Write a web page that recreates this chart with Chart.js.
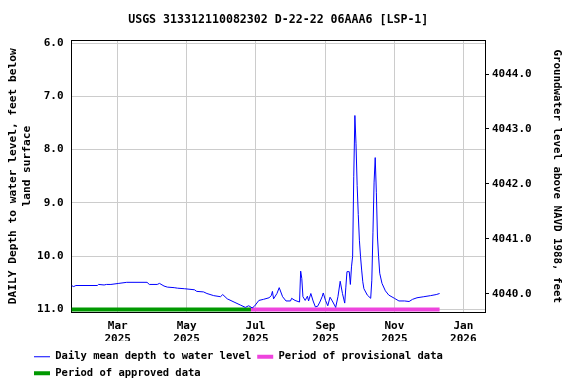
<!DOCTYPE html>
<html>
<head>
<meta charset="utf-8">
<title>USGS 313312110082302 D-22-22 06AAA6 [LSP-1]</title>
<script src="https://cdn.jsdelivr.net/npm/chart.js@4/dist/chart.umd.min.js"></script>
<style>
    body { margin: 0; background: #ffffff; }
</style>
</head>
<body>
<canvas id="myChart" width="576" height="384"></canvas>
<script>
// daily mean depth to water, feet below land surface
var dates = [
    '2025-01-19', '2025-01-21', '2025-01-23', '2025-02-11', '2025-02-12', '2025-02-17', '2025-02-19', '2025-02-23',
    '2025-03-02', '2025-03-09', '2025-03-27', '2025-03-29', '2025-04-05', '2025-04-07', '2025-04-11', '2025-04-14',
    '2025-04-20', '2025-04-23', '2025-04-29', '2025-05-08', '2025-05-10', '2025-05-16', '2025-05-19', '2025-05-25',
    '2025-05-31', '2025-06-02', '2025-06-06', '2025-06-12', '2025-06-18', '2025-06-22', '2025-06-25', '2025-06-28',
    '2025-06-30', '2025-07-04', '2025-07-08', '2025-07-13', '2025-07-15', '2025-07-16', '2025-07-17', '2025-07-20',
    '2025-07-22', '2025-07-25', '2025-07-28', '2025-08-01', '2025-08-02', '2025-08-05', '2025-08-09', '2025-08-10',
    '2025-08-11', '2025-08-12', '2025-08-14', '2025-08-16', '2025-08-17', '2025-08-19', '2025-08-21', '2025-08-23',
    '2025-08-25', '2025-08-27', '2025-08-29', '2025-08-30', '2025-09-01', '2025-09-03', '2025-09-05', '2025-09-07',
    '2025-09-10', '2025-09-12', '2025-09-14', '2025-09-16', '2025-09-18', '2025-09-19', '2025-09-20', '2025-09-22',
    '2025-09-23', '2025-09-24', '2025-09-25', '2025-09-26', '2025-09-27', '2025-09-28', '2025-09-29', '2025-09-30',
    '2025-10-01', '2025-10-02', '2025-10-03', '2025-10-04', '2025-10-05', '2025-10-08', '2025-10-11', '2025-10-12',
    '2025-10-13', '2025-10-14', '2025-10-15', '2025-10-16', '2025-10-17', '2025-10-18', '2025-10-19', '2025-10-21',
    '2025-10-24', '2025-10-27', '2025-11-01', '2025-11-05', '2025-11-10', '2025-11-14', '2025-11-17', '2025-11-21',
    '2025-11-27', '2025-12-03', '2025-12-08', '2025-12-11'
];
var depthFt = [
    10.55, 10.57, 10.55, 10.55, 10.53, 10.54, 10.53, 10.53,
    10.51, 10.49, 10.49, 10.53, 10.53, 10.51, 10.56, 10.58,
    10.59, 10.60, 10.61, 10.63, 10.66, 10.67, 10.70, 10.74,
    10.76, 10.72, 10.80, 10.86, 10.92, 10.96, 10.93, 10.97,
    10.94, 10.83, 10.81, 10.78, 10.74, 10.66, 10.80, 10.70,
    10.59, 10.76, 10.84, 10.84, 10.79, 10.83, 10.86, 10.28,
    10.42, 10.76, 10.83, 10.75, 10.84, 10.70, 10.84, 10.95,
    10.94, 10.86, 10.76, 10.69, 10.83, 10.93, 10.77, 10.84,
    10.96, 10.76, 10.47, 10.70, 10.88, 10.58, 10.29, 10.29,
    10.53, 10.20, 10.00, 8.50, 7.36, 7.89, 8.67, 9.22,
    9.70, 10.01, 10.26, 10.48, 10.61, 10.73, 10.79, 10.45,
    9.55, 8.61, 8.15, 8.80, 9.64, 10.01, 10.32, 10.51,
    10.65, 10.73, 10.79, 10.84, 10.84, 10.85, 10.81, 10.78,
    10.76, 10.74, 10.72, 10.70
];

var approvedPeriod = ['2025-01-19', '2025-06-27'];
var provisionalPeriod = ['2025-06-27', '2025-12-11'];
var periodDepth = 11.0;

var monthTicks = ['2025-03-01', '2025-05-01', '2025-07-01', '2025-09-01', '2025-11-01', '2026-01-01'];
var monthLabels = [['Mar', '2025'], ['May', '2025'], ['Jul', '2025'], ['Sep', '2025'], ['Nov', '2025'], ['Jan', '2026']];
var depthTicks = [6, 7, 8, 9, 10, 11];
var elevTicks = [4040, 4041, 4042, 4043, 4044];

var day0 = Date.parse('2025-01-01');
var toDay = function (s) {
    return (Date.parse(s) - day0) / 86400000;
};

var asTicks = function (values) {
    return values.map(function (v) { return { value: v }; });
};

var periodLine = function (period) {
    return period.map(function (d) { return { x: toDay(d), y: periodDepth }; });
};

// title over the plot, legend left-aligned under the axis
var placeBlocks = {
    id: 'placeBlocks',
    afterLayout: function (chart) {
        var area = chart.chartArea;
        chart.titleBlock.left = area.left;
        chart.titleBlock.right = area.right;
        chart.legend.left = 28;
        chart.legend.top = 345.5;
    }
};

Chart.defaults.font.family = 'DejaVu Sans Mono';
Chart.defaults.font.weight = 'bold';
Chart.defaults.color = '#000000';

var ctx = document.getElementById('myChart');

new Chart(ctx, {
    type: 'line',
    data: {
        datasets: [
            {
                label: 'Daily mean depth to water level',
                data: dates.map(function (d, i) { return { x: toDay(d), y: depthFt[i] }; }),
                borderColor: '#0000ff',
                borderWidth: 1,
                pointRadius: 0,
                tension: 0
            },
            {
                label: 'Period of provisional data',
                data: periodLine(provisionalPeriod),
                borderColor: '#ee44dd',
                borderWidth: 4,
                pointRadius: 0
            },
            {
                label: 'Period of approved data',
                data: periodLine(approvedPeriod),
                borderColor: '#009900',
                borderWidth: 4,
                pointRadius: 0
            }
        ]
    },
    options: {
        responsive: false,
        animation: false,
        devicePixelRatio: 1,
        layout: { padding: 0 },
        plugins: {
            tooltip: { enabled: false },
            title: {
                display: true,
                text: 'USGS 313312110082302 D-22-22 06AAA6 [LSP-1]',
                font: { size: 11.6 },
                padding: { top: 13, bottom: 13.6 }
            },
            legend: {
                position: 'bottom',
                align: 'start',
                labels: {
                    usePointStyle: true,
                    pointStyle: 'line',
                    pointStyleWidth: 16,
                    boxHeight: 10.5,
                    padding: 6,
                    font: { size: 10.5 }
                }
            }
        },
        scales: {
            x: {
                type: 'linear',
                position: 'bottom',
                min: 18.1,
                max: 384.2,
                afterBuildTicks: function (s) { s.ticks = asTicks(monthTicks.map(toDay)); },
                afterFit: function (s) { s.height = 29; },
                ticks: {
                    padding: 7,
                    maxRotation: 0,
                    autoSkip: false,
                    font: { size: 11, lineHeight: 1.21 },
                    callback: function (v, i) { return monthLabels[i]; }
                },
                grid: { color: '#cccccc', drawTicks: false },
                border: { color: '#000000' }
            },
            x2: {
                type: 'linear',
                position: 'top',
                min: 0,
                max: 1,
                afterFit: function (s) { s.height = 0; },
                ticks: { display: false },
                grid: { display: false },
                border: { color: '#000000' }
            },
            y: {
                position: 'left',
                reverse: true,
                min: 5.953,
                max: 11.047,
                afterBuildTicks: function (s) { s.ticks = asTicks(depthTicks); },
                afterFit: function (s) { s.width = 71.5; },
                ticks: {
                    padding: 8,
                    font: { size: 11 },
                    callback: function (v) { return v.toFixed(1); }
                },
                grid: { color: '#cccccc', drawTicks: false },
                border: { color: '#000000' },
                title: {
                    display: true,
                    text: ['DAILY Depth to water level, feet below', '   land surface'],
                    font: { size: 11.2, lineHeight: 1.25 },
                    padding: { top: 6 }
                }
            },
            y2: {
                position: 'right',
                min: 4039.67,
                max: 4044.61,
                afterBuildTicks: function (s) { s.ticks = asTicks(elevTicks); },
                afterFit: function (s) { s.width = 91; },
                ticks: {
                    padding: 3,
                    font: { size: 11 },
                    callback: function (v) { return v.toFixed(1); }
                },
                grid: { drawOnChartArea: false, color: '#000000', tickLength: 4 },
                border: { color: '#000000' },
                title: {
                    display: true,
                    text: 'Groundwater level above NAVD 1988, feet',
                    font: { size: 10.8, lineHeight: 1.25 },
                    padding: { top: 12.25 }
                }
            }
        }
    },
    plugins: [placeBlocks]
});
</script>
</body>
</html>
